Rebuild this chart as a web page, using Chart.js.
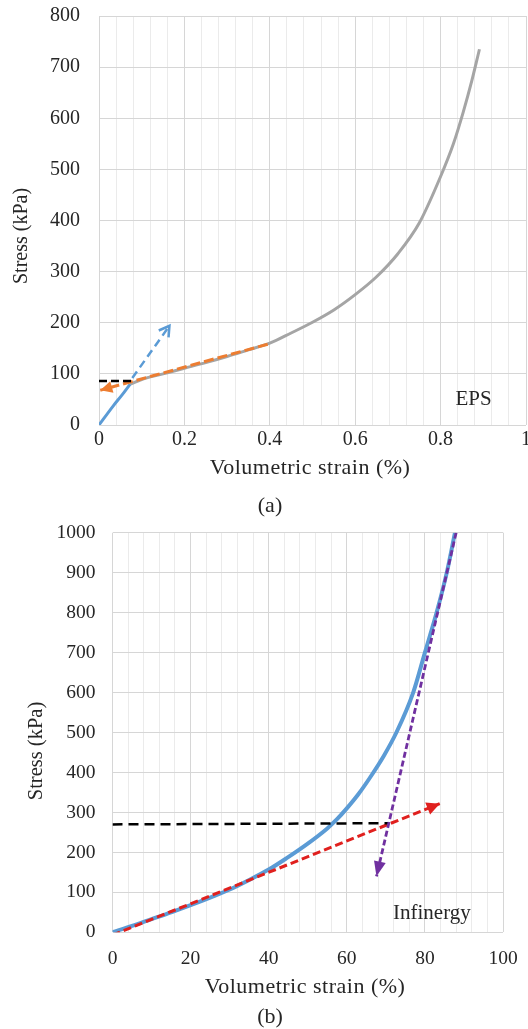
<!DOCTYPE html>
<html>
<head>
<meta charset="utf-8">
<script src="https://cdn.jsdelivr.net/npm/chart.js@4.4.1/dist/chart.umd.min.js"></script>
<style>
  html, body { margin: 0; padding: 0; background: #fff; }
  .panel { position: absolute; left: 0; width: 528px; }
  #panelA { top: 0; height: 520px; }
  #panelB { top: 520px; height: 509px; }
</style>
</head>
<body>
<div class="panel" id="panelA"><canvas id="epsChart" width="528" height="520"></canvas></div>
<div class="panel" id="panelB"><canvas id="infChart" width="528" height="509"></canvas></div>
<script>
// ---- (a) EPS ----
const epsCurveX = [0.073, 0.1, 0.15, 0.2, 0.25, 0.3, 0.35, 0.4, 0.45, 0.5, 0.55, 0.6, 0.65, 0.7, 0.75, 0.8, 0.83, 0.853, 0.873, 0.891];
const epsCurveY = [80, 89, 100, 111, 122, 134, 147, 160, 180, 201, 225, 255, 290, 335, 395, 486, 550, 612, 673, 735];
const epsInitX = [0, 0.033, 0.055, 0.073];
const epsInitY = [0, 37, 60, 80];
const epsInitTangentX = [0.078, 0.165];
const epsInitTangentY = [92, 194];
const epsPlateauX = [0.395, 0.003];
const epsPlateauY = [158, 68];
const epsYieldX = [0, 0.076];
const epsYieldY = [86, 86];
const epsXTicks = ['0', '0.2', '0.4', '0.6', '0.8', '1'];

// ---- (b) Infinergy ----
const infCurveX = [0, 5, 10, 15, 20, 25, 30, 35, 40, 44.5, 50, 55, 57.5, 60, 63, 66, 69.5, 72.7, 77, 80, 83, 85.6, 87.7];
const infCurveY = [0, 16, 33, 50, 68, 87, 107, 131, 157, 185, 222, 260, 283, 310, 346, 388, 442, 500, 600, 700, 800, 900, 1000];
const infLinearX = [0, 83.8];
const infLinearY = [-7, 322];
const infStiffX = [88, 67.6];
const infStiffY = [1000, 140];
const infYieldX = [0, 70.6];
const infYieldY = [270, 273];
const infXTicks = ['0', '20', '40', '60', '80', '100'];

const FONT = 'Liberation Serif';
const TEXT = '#262626';
const GRID_MAJOR = '#d6d6d6';
const GRID_MINOR = '#ebebeb';

function pts(xs, ys) {
  return xs.map((x, i) => ({ x: x, y: ys[i] }));
}

function line(label, xs, ys, color, width, dash, arrow) {
  return {
    label: label,
    data: pts(xs, ys),
    borderColor: color,
    backgroundColor: color,
    borderWidth: width,
    borderDash: dash || [],
    pointRadius: 0,
    showLine: true,
    cubicInterpolationMode: 'monotone',
    arrow: arrow || null
  };
}

// arrowheads at the last point of a dataset, plus the free text
const overlay = {
  id: 'overlay',
  afterDatasetsDraw(chart) {
    const ctx = chart.ctx;
    const xs = chart.scales.x, ys = chart.scales.y;
    chart.data.datasets.forEach(ds => {
      if (!ds.arrow) return;
      const n = ds.data.length;
      const px = xs.getPixelForValue(ds.data[n - 1].x), py = ys.getPixelForValue(ds.data[n - 1].y);
      const qx = xs.getPixelForValue(ds.data[n - 2].x), qy = ys.getPixelForValue(ds.data[n - 2].y);
      const len = Math.hypot(px - qx, py - qy);
      const dx = (px - qx) / len, dy = (py - qy) / len;
      const a = ds.arrow;
      const bx = px - dx * a.len, by = py - dy * a.len;
      const nx = -dy * a.half, ny = dx * a.half;
      ctx.save();
      ctx.setLineDash([]);
      ctx.beginPath();
      ctx.moveTo(bx + nx, by + ny);
      ctx.lineTo(px, py);
      ctx.lineTo(bx - nx, by - ny);
      if (a.open) {
        ctx.strokeStyle = ds.borderColor;
        ctx.lineWidth = ds.borderWidth;
        ctx.lineJoin = 'miter';
        ctx.stroke();
      } else {
        ctx.closePath();
        ctx.fillStyle = ds.borderColor;
        ctx.fill();
      }
      ctx.restore();
    });
  },
  afterDraw(chart, args, opts) {
    const ctx = chart.ctx;
    ctx.save();
    ctx.fillStyle = TEXT;
    ctx.textAlign = 'center';
    ctx.textBaseline = 'middle';
    ctx.font = opts.xTitleSize + 'px "' + FONT + '"';
    ctx.letterSpacing = '0.5px';
    ctx.fillText(opts.xTitle, opts.xTitlePos[0], opts.xTitlePos[1]);
    ctx.letterSpacing = '0px';
    ctx.fillText(opts.caption, opts.captionPos[0], opts.captionPos[1]);
    ctx.font = opts.yTitleSize + 'px "' + FONT + '"';
    ctx.save();
    ctx.translate(opts.yTitlePos[0], opts.yTitlePos[1]);
    ctx.rotate(-Math.PI / 2);
    ctx.fillText(opts.yTitle, 0, 0);
    ctx.restore();
    ctx.font = opts.noteSize + 'px "' + FONT + '"';
    ctx.fillText(opts.note, chart.scales.x.getPixelForValue(opts.noteAt[0]), chart.scales.y.getPixelForValue(opts.noteAt[1]));
    ctx.restore();
  }
};

function axes(xMax, xStep, xLabels, yMax, yWidth, xHeight, tickSize, xPad, yPad) {
  return {
    x: {
      type: 'linear', min: 0, max: xMax,
      ticks: {
        stepSize: xStep, autoSkip: false, maxRotation: 0, padding: xPad,
        color: TEXT, font: { family: FONT, size: tickSize },
        callback: (v, i) => (i % 5 === 0 ? xLabels[i / 5] : '')
      },
      grid: { drawTicks: false, color: c => (c.index % 5 === 0 ? GRID_MAJOR : GRID_MINOR) },
      border: { display: false },
      afterFit: s => { s.height = xHeight; s.paddingLeft = 0; s.paddingRight = 0; }
    },
    y: {
      type: 'linear', min: 0, max: yMax,
      ticks: {
        stepSize: 100, padding: yPad, color: TEXT, font: { family: FONT, size: tickSize },
        callback: v => String(v)
      },
      grid: { drawTicks: false, color: GRID_MAJOR },
      border: { display: false },
      afterFit: s => { s.width = yWidth; s.paddingTop = 0; s.paddingBottom = 0; }
    }
  };
}

new Chart(document.getElementById('epsChart'), {
  type: 'scatter',
  data: {
    datasets: [
      line('Yield', epsYieldX, epsYieldY, '#000000', 2.5, [8, 4]),
      line('Plateau tangent', epsPlateauX, epsPlateauY, '#ED7D31', 3, [10, 4], { len: 12, half: 6 }),
      line('Initial tangent', epsInitTangentX, epsInitTangentY, '#5B9BD5', 2.5, [8, 5], { len: 10, half: 6, open: true }),
      line('Initial', epsInitX, epsInitY, '#5B9BD5', 3),
      line('EPS', epsCurveX, epsCurveY, '#A5A5A5', 3)
    ]
  },
  options: {
    responsive: false,
    animation: false,
    layout: { padding: { top: 16, right: 2, bottom: 0, left: 0 } },
    scales: axes(1, 0.04, epsXTicks, 800, 99, 95, 20, 3, 19),
    plugins: {
      legend: { display: false },
      tooltip: { enabled: false },
      overlay: {
        xTitle: 'Volumetric strain (%)', xTitlePos: [310, 468], xTitleSize: 22,
        yTitle: 'Stress (kPa)', yTitlePos: [22, 236], yTitleSize: 20,
        caption: '(a)', captionPos: [270, 506],
        note: 'EPS', noteAt: [0.877, 49], noteSize: 21
      }
    }
  },
  plugins: [overlay]
});

new Chart(document.getElementById('infChart'), {
  type: 'scatter',
  data: {
    datasets: [
      line('Densification tangent', infStiffX, infStiffY, '#7030A0', 2.8, [6, 3], { len: 15, half: 6 }),
      line('Yield', infYieldX, infYieldY, '#000000', 2.5, [10, 6]),
      line('Linear tangent', infLinearX, infLinearY, '#E0201E', 3, [8, 4], { len: 13, half: 6.5 }),
      line('Infinergy', infCurveX, infCurveY, '#5B9BD5', 4)
    ]
  },
  options: {
    responsive: false,
    animation: false,
    layout: { padding: { top: 12.7, right: 25, bottom: 0, left: 0 } },
    scales: axes(100, 4, infXTicks, 1000, 112.5, 96.7, 19.5, 15, 17),
    plugins: {
      legend: { display: false },
      tooltip: { enabled: false },
      overlay: {
        xTitle: 'Volumetric strain (%)', xTitlePos: [305, 467], xTitleSize: 22,
        yTitle: 'Stress (kPa)', yTitlePos: [37, 231], yTitleSize: 20.5,
        caption: '(b)', captionPos: [270, 497],
        note: 'Infinergy', noteAt: [81.8, 48], noteSize: 21
      }
    }
  },
  plugins: [overlay]
});
</script>
</body>
</html>
